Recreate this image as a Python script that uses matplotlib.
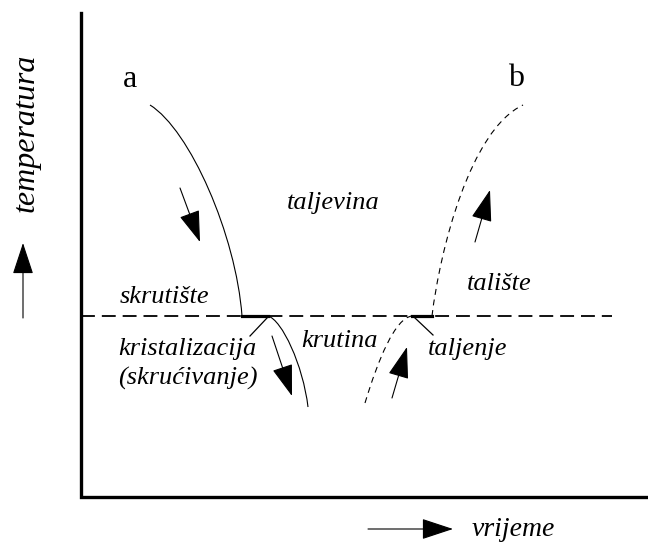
import matplotlib
matplotlib.use("Agg")
import matplotlib.pyplot as plt
from matplotlib.path import Path
from matplotlib.patches import FancyArrowPatch, PathPatch

plt.rcParams['font.family'] = ['Liberation Serif', 'DejaVu Serif']
plt.rcParams['lines.scale_dashes'] = False

# frame (pixel coordinates of the sketch, y grows downwards)
axis_x = [81, 81, 648]
axis_y = [13, 497, 497]
level_y = 316
level_x = [81, 612]

# bezier control points of the curves: start, ctrl1, ctrl2, end
a_top = [(150, 105), (190, 130), (236, 235), (242, 316)]
a_low = [(268, 316), (282, 320), (303, 365), (308, 407)]
b_low = [(365, 403), (378, 360), (395, 318), (412, 316)]
b_top = [(432, 316), (440, 250), (470, 130), (523, 105)]
a_flat_x = [242, 268]
b_flat_x = [412, 432]

# direction arrows: (tail, tip)
arrows = [
    ((180, 188), (200, 242)),
    ((272, 336), (292, 396)),
    ((475, 242), (490, 190)),
    ((392, 398), (407, 347)),
    ((23, 318), (23, 243)),
    ((368, 529), (453, 529)),
]
leaders = [((267, 318), (250, 336)), ((415, 318), (433, 335))]

fig = plt.figure(figsize=(6.48, 5.44), dpi=100)
ax = fig.add_axes([0, 0, 1, 1])
ax.set_xlim(0, 648)
ax.set_ylim(544, 0)
ax.axis('off')

ax.plot(axis_x, axis_y, color='black', lw=2.4, solid_joinstyle='miter')
ax.plot(level_x, [level_y, level_y], color='black', lw=1.3, dashes=(10, 5))

curve_codes = [Path.MOVETO, Path.CURVE4, Path.CURVE4, Path.CURVE4]
for pts, ls in [(a_top, '-'), (a_low, '-'), (b_low, (0, (4.3, 3.4))), (b_top, (0, (4.3, 3.4)))]:
    ax.add_patch(PathPatch(Path(pts, curve_codes), fill=False, edgecolor='black',
                           lw=0.8, linestyle=ls))

ax.plot(a_flat_x, [level_y, level_y], color='black', lw=2.3)
ax.plot(b_flat_x, [level_y, level_y], color='black', lw=2.3)

for (x0, y0), (x1, y1) in leaders:
    ax.plot([x0, x1], [y0, y1], color='black', lw=0.9)

for tail, tip in arrows:
    ax.add_patch(FancyArrowPatch(tail, tip, arrowstyle='-|>,head_length=1.0,head_width=0.33',
                                 mutation_scale=20, color='black', lw=0.8,
                                 shrinkA=0, shrinkB=0))

ax.text(129.5, 87, "a", fontsize=23, ha='center', va='baseline')
ax.text(516, 86, "b", fontsize=23, ha='center', va='baseline')

it = dict(fontsize=19, style='italic', va='baseline', ha='left')
ax.text(287, 209, "taljevina", **it)
ax.text(120, 303, "skrutište", **it)
ax.text(118, 355, "kristalizacija", **it)
ax.text(118, 385, "(skrućivanje)", **it)
ax.text(301, 347, "krutina", **it)
ax.text(428, 355, "taljenje", **it)
ax.text(467, 290, "talište", **it)

ax.text(26, 133, "temperatura", fontsize=23, style='italic', rotation=90,
        ha='center', va='center')
ax.text(472, 529, "vrijeme", fontsize=20, style='italic', ha='left', va='center')

fig.savefig("out.png", dpi=100, facecolor='white')
